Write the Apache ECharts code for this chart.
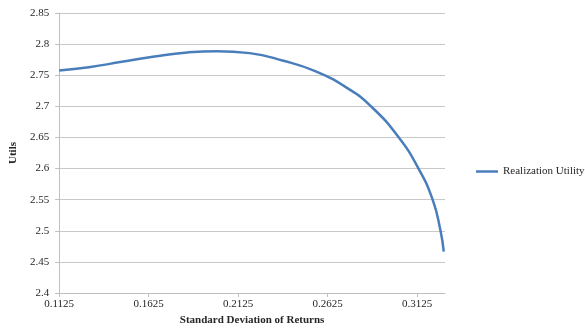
<!DOCTYPE html>
<html>
<head>
<meta charset="utf-8">
<script src="https://cdn.jsdelivr.net/npm/echarts@6/dist/echarts.min.js"></script>
<style>
  html, body { margin: 0; padding: 0; background: #ffffff; }
  #chart { width: 585px; height: 333px; }
</style>
</head>
<body>
<div id="chart"></div>
<script>
// Standard deviation of returns (x) and the resulting utility (y)
const sdValues = [0.1125, 0.1291, 0.1475, 0.1658, 0.1841, 0.2006, 0.2189, 0.2372, 0.2555, 0.2739, 0.2867, 0.3022, 0.3132, 0.3211, 0.3255, 0.3273];
const utilValues = [2.7575, 2.7629, 2.7715, 2.7801, 2.7866, 2.7887, 2.7855, 2.7737, 2.7565, 2.7285, 2.7000, 2.6500, 2.6000, 2.5500, 2.5000, 2.4665];
const xTickValues = [0.1125, 0.1625, 0.2125, 0.2625, 0.3125];
const seriesName = 'Realization Utility';

const FONT = '"Liberation Serif", "Times New Roman", serif';
const TEXT = '#262626';
const LINE_COLOR = '#4a7ebb';

const chart = echarts.init(document.getElementById('chart'), null, { renderer: 'canvas' });

chart.setOption({
  animation: false,
  backgroundColor: '#ffffff',
  grid: { left: 53, right: 140, top: 13, bottom: 40, containLabel: false },
  legend: {
    left: 476,
    top: 166,
    padding: 0,
    icon: 'rect',
    itemWidth: 22,
    itemHeight: 2.5,
    textStyle: { fontFamily: FONT, fontSize: 11, color: TEXT },
    data: [seriesName]
  },
  xAxis: {
    type: 'value',
    min: 0.1125,
    max: 0.328,
    name: 'Standard Deviation of Returns',
    nameLocation: 'middle',
    nameGap: 21,
    nameTextStyle: { fontFamily: FONT, fontSize: 11, fontWeight: 'bold', color: TEXT },
    axisLine: { show: true, lineStyle: { color: '#bfbfbf', width: 1 } },
    axisTick: { show: true, length: 4, lineStyle: { color: '#bfbfbf' }, customValues: xTickValues },
    axisLabel: { fontFamily: FONT, fontSize: 11, color: TEXT, margin: 6, customValues: xTickValues },
    splitLine: { show: false }
  },
  yAxis: {
    type: 'value',
    min: 2.4,
    max: 2.85,
    interval: 0.05,
    name: 'Utils',
    nameLocation: 'middle',
    nameRotate: 90,
    nameGap: 34,
    nameTextStyle: { fontFamily: FONT, fontSize: 11, fontWeight: 'bold', color: TEXT },
    axisLine: { show: true, lineStyle: { color: '#bfbfbf', width: 1 } },
    axisTick: { show: true, length: 4, lineStyle: { color: '#bfbfbf' } },
    axisLabel: {
      fontFamily: FONT, fontSize: 11, color: TEXT, margin: 10,
      formatter: v => String(parseFloat(v.toFixed(2)))
    },
    splitLine: { show: true, lineStyle: { color: '#c8c8c8', width: 1 } }
  },
  series: [{
    name: seriesName,
    type: 'line',
    data: sdValues.map((x, i) => [x, utilValues[i]]),
    symbol: 'none',
    smooth: 0.5,
    lineStyle: { color: LINE_COLOR, width: 2.5 },
    itemStyle: { color: LINE_COLOR }
  }]
});
</script>
</body>
</html>
